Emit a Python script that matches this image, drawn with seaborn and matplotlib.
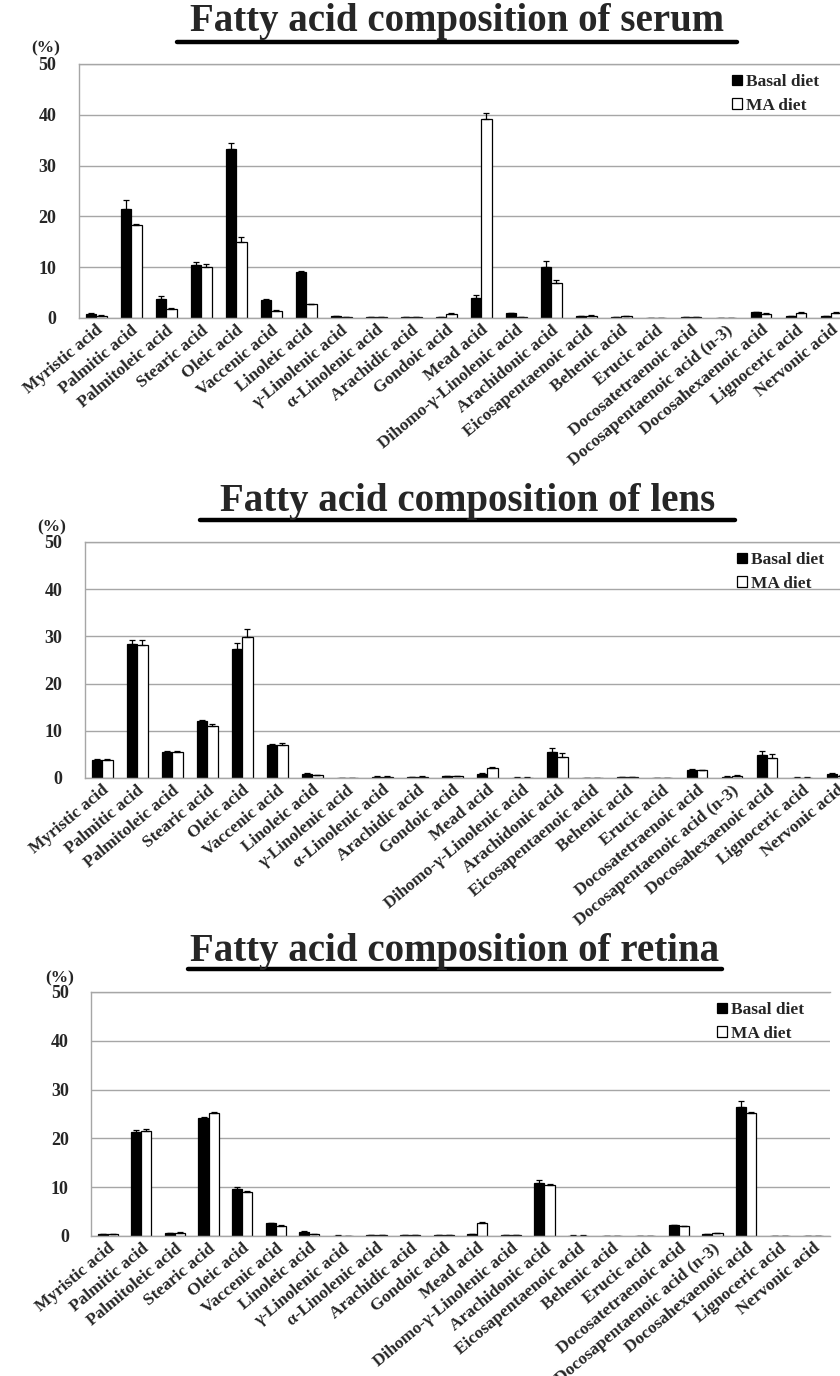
import numpy as np
import pandas as pd
import matplotlib
matplotlib.use("Agg")
import matplotlib.pyplot as plt
from matplotlib.lines import Line2D
import seaborn as sns

acids = [
    "Myristic acid", "Palmitic acid", "Palmitoleic acid", "Stearic acid",
    "Oleic acid", "Vaccenic acid", "Linoleic acid", "\u03b3-Linolenic acid",
    "\u03b1-Linolenic acid", "Arachidic acid", "Gondoic acid", "Mead acid",
    "Dihomo-\u03b3-Linolenic acid", "Arachidonic acid", "Eicosapentaenoic acid",
    "Behenic acid", "Erucic acid", "Docosatetraenoic acid",
    "Docosapentaenoic acid (n-3)", "Docosahexaenoic acid", "Lignoceric acid",
    "Nervonic acid",
]
diets = ["Basal diet", "MA diet"]

# Serum (% of total fatty acids), mean and upper error
serum_basal = [0.8, 21.4, 3.7, 10.35, 33.2, 3.5, 9.0, 0.33, 0.1, 0.15, 0.2, 4.0,
               0.9, 10.0, 0.35, 0.15, 0.05, 0.1, 0.05, 1.1, 0.3, 0.4]
serum_ma = [0.45, 18.3, 1.8, 10.0, 14.9, 1.4, 2.75, 0.2, 0.1, 0.2, 0.8, 39.1,
            0.2, 6.95, 0.45, 0.35, 0.05, 0.1, 0.05, 0.85, 1.0, 1.05]
serum_basal_err = [0.1, 1.8, 0.6, 0.65, 1.2, 0.2, 0.3, 0.05, 0.02, 0.02, 0.05, 0.45,
                   0.1, 1.3, 0.05, 0.02, 0.01, 0.02, 0.01, 0.15, 0.05, 0.05]
serum_ma_err = [0.05, 0.15, 0.2, 0.6, 1.0, 0.1, 0.1, 0.02, 0.02, 0.02, 0.1, 1.3,
                0.02, 0.55, 0.05, 0.05, 0.01, 0.02, 0.01, 0.1, 0.1, 0.1]

# Lens
lens_basal = [3.9, 28.4, 5.45, 12.0, 27.3, 7.0, 0.9, 0.0, 0.3, 0.25, 0.4, 0.9,
              0.1, 5.6, 0.0, 0.2, 0.0, 1.75, 0.3, 4.8, 0.1, 0.9]
lens_ma = [3.75, 28.25, 5.5, 11.1, 29.9, 7.0, 0.55, 0.0, 0.3, 0.3, 0.45, 2.05,
           0.1, 4.4, 0.0, 0.15, 0.0, 1.6, 0.5, 4.25, 0.1, 0.5]
lens_basal_err = [0.2, 0.9, 0.2, 0.3, 1.2, 0.3, 0.1, 0.0, 0.02, 0.02, 0.05, 0.1,
                  0.01, 0.8, 0.0, 0.02, 0.0, 0.1, 0.05, 0.9, 0.01, 0.1]
lens_ma_err = [0.2, 0.95, 0.2, 0.35, 1.7, 0.4, 0.05, 0.0, 0.02, 0.02, 0.05, 0.35,
               0.01, 0.8, 0.0, 0.02, 0.0, 0.1, 0.2, 0.85, 0.01, 0.05]

# Retina
retina_basal = [0.4, 21.3, 0.6, 24.2, 9.7, 2.65, 0.9, 0.1, 0.15, 0.2, 0.2, 0.35,
                0.25, 10.8, 0.1, 0.0, 0.0, 2.2, 0.4, 26.5, 0.0, 0.0]
retina_ma = [0.4, 21.6, 0.7, 25.2, 9.0, 2.1, 0.4, 0.05, 0.15, 0.2, 0.25, 2.7,
             0.15, 10.5, 0.1, 0.0, 0.0, 2.0, 0.6, 25.2, 0.0, 0.0]
retina_basal_err = [0.05, 0.5, 0.1, 0.2, 0.4, 0.1, 0.05, 0.01, 0.02, 0.02, 0.02, 0.05,
                    0.02, 0.6, 0.01, 0.0, 0.0, 0.1, 0.05, 1.1, 0.0, 0.0]
retina_ma_err = [0.05, 0.3, 0.1, 0.2, 0.3, 0.1, 0.05, 0.01, 0.02, 0.02, 0.02, 0.15,
                 0.02, 0.15, 0.01, 0.0, 0.0, 0.1, 0.1, 0.15, 0.0, 0.0]

yticks = [0, 10, 20, 30, 40, 50]

sns.set_theme(style="white")
plt.rcParams["font.family"] = ["Liberation Serif", "DejaVu Serif"]
plt.rcParams["font.weight"] = "bold"

W, H = 840, 1376
fig = plt.figure(figsize=(W / 100, H / 100), dpi=100)


def px_axes(left, right, top, bottom):
    return fig.add_axes([left / W, 1 - bottom / H, (right - left) / W, (bottom - top) / H])


panels = [
    dict(title="Fatty acid composition of serum", basal=serum_basal, ma=serum_ma,
         berr=serum_basal_err, merr=serum_ma_err,
         box=(78.5, 848.5, 64, 318), title_xy=(457, 22), line=(177, 737, 42),
         pct_xy=(46, 48), legend_xy=(826, 67)),
    dict(title="Fatty acid composition of lens", basal=lens_basal, ma=lens_ma,
         berr=lens_basal_err, merr=lens_ma_err,
         box=(84.5, 854.5, 542, 778), title_xy=(468, 502), line=(200, 735, 520),
         pct_xy=(52, 527), legend_xy=(831, 545)),
    dict(title="Fatty acid composition of retina", basal=retina_basal, ma=retina_ma,
         berr=retina_basal_err, merr=retina_ma_err,
         box=(91, 830, 992, 1236), title_xy=(455, 951), line=(188, 722, 969),
         pct_xy=(60, 978), legend_xy=(811, 995)),
]

for p in panels:
    df = pd.DataFrame({
        "acid": acids * 2,
        "diet": [diets[0]] * len(acids) + [diets[1]] * len(acids),
        "value": list(p["basal"]) + list(p["ma"]),
    })
    l, r, t, b = p["box"]
    ax = px_axes(l, r, t, b)
    sns.barplot(data=df, x="acid", y="value", hue="diet", order=acids,
                hue_order=diets, palette=["black", "white"], edgecolor="black",
                linewidth=0.9, width=0.6, gap=0, errorbar=None, ax=ax)

    # upper error bars with caps on each bar
    for cont, errs in zip(ax.containers, [p["berr"], p["merr"]]):
        xs = [bar.get_x() + bar.get_width() / 2 for bar in cont]
        ys = [bar.get_height() for bar in cont]
        e = np.array(errs)
        ax.errorbar(xs, ys, yerr=[np.zeros_like(e), e], fmt="none",
                    ecolor="black", elinewidth=0.9, capsize=2.2, capthick=0.9)

    ax.set_ylim(0, 50)
    ax.set_xlim(-0.5, len(acids) - 0.5)
    ax.set_yticks(yticks)
    ax.set_yticklabels([str(v) for v in yticks], fontsize=13, fontweight="bold")
    ax.tick_params(axis="y", length=0, pad=16)
    ax.tick_params(axis="x", length=0, pad=3)
    ax.set_xticks(range(len(acids)))
    ax.set_xticklabels(acids, rotation=40, ha="right", rotation_mode="anchor",
                       fontsize=12.5, fontweight="bold")
    ax.set_xlabel("")
    ax.set_ylabel("")
    ax.yaxis.grid(True, color="#a6a6a6", linewidth=1.0)
    ax.set_axisbelow(True)
    for side in ["left", "top", "bottom"]:
        ax.spines[side].set_color("#a6a6a6")
        ax.spines[side].set_linewidth(1.0)
    ax.spines["right"].set_visible(False)

    handles, labels = ax.get_legend_handles_labels()
    ax.legend(handles, labels, loc="upper right",
              bbox_to_anchor=(p["legend_xy"][0] / W, 1 - p["legend_xy"][1] / H),
              bbox_transform=fig.transFigure, frameon=False,
              prop=dict(family="Liberation Serif", weight="bold", size=12.5),
              handlelength=0.55, handleheight=0.55, handletextpad=0.25,
              labelspacing=0.45, borderaxespad=0)

    fig.text(p["title_xy"][0] / W, 1 - p["title_xy"][1] / H, p["title"],
             ha="center", va="center", fontsize=28, fontweight="bold")
    x0, x1, yl = p["line"]
    fig.add_artist(Line2D([x0 / W, x1 / W], [1 - yl / H, 1 - yl / H],
                          color="black", linewidth=3.2,
                          transform=fig.transFigure))
    fig.text(p["pct_xy"][0] / W, 1 - p["pct_xy"][1] / H, "(%)", ha="center",
             va="center", fontsize=12.5, fontweight="bold")

fig.savefig("out.png", dpi=100)
